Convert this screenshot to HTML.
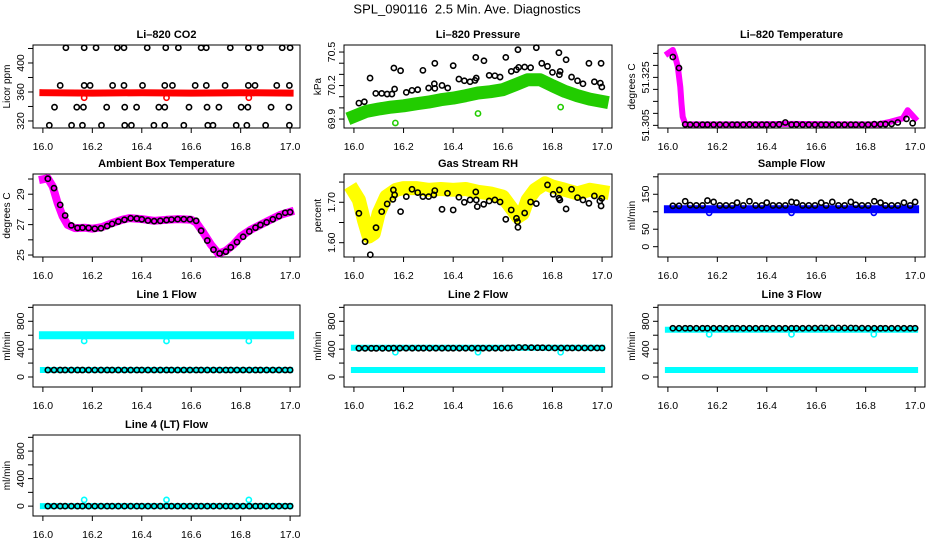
<!DOCTYPE html>
<html><head><meta charset="utf-8">
<style>
html,body{margin:0;padding:0;background:#fff;}
svg{display:block;font-family:"Liberation Sans",Arial,sans-serif;}
</style></head>
<body>
<svg id="chart" width="936" height="540" viewBox="0 0 936 540">
<text x="467" y="13.5" text-anchor="middle" font-size="13" style="white-space:pre" xml:space="preserve">SPL_090116  2.5 Min. Ave. Diagnostics</text>
</svg>
<script>
// ---------- data ----------
const xTicks = [16.0, 16.2, 16.4, 16.6, 16.8, 17.0];
const xTickLabels = ["16.0", "16.2", "16.4", "16.6", "16.8", "17.0"];
const sampleX = [16.02,16.045,16.07,16.09,16.115,16.14,16.16,16.185,16.21,16.235,16.26,16.28,16.305,16.33,16.355,16.38,16.4,16.425,16.45,16.475,16.5,16.52,16.545,16.57,16.595,16.62,16.64,16.665,16.69,16.715,16.74,16.76,16.785,16.81,16.835,16.86,16.88,16.905,16.93,16.955,16.98,17.0];
const outlierX = [16.167, 16.5, 16.833];

// CO2
const co2BandX = [16.0, 16.2, 16.4, 16.6, 16.8, 17.0];
const co2BandY = [359, 358.5, 359, 358.5, 359, 358.5];
const co2OutY = [352, 352, 352];
const co2BlackX = [16.093,16.167,16.215,16.301,16.328,16.422,16.497,16.548,16.640,16.661,16.758,16.831,16.879,16.968,17.0,
 16.070,16.167,16.191,16.282,16.328,16.403,16.493,16.524,16.616,16.661,16.737,16.831,16.858,16.946,16.997,
 16.047,16.137,16.164,16.258,16.331,16.379,16.469,16.493,16.591,16.664,16.712,16.802,16.829,16.923,16.995,
 16.026,16.116,16.160,16.237,16.331,16.358,16.449,16.493,16.570,16.667,16.688,16.782,16.825,16.901,16.997];
const co2BlackY = [421,421,421,421,421,421,421,421,421,421,421,421,421,421,421,
 369,369,369,369,369,369,369,369,369,369,369,369,369,369,369,
 339,339,339,339,339,339,339,339,339,339,339,339,339,339,339,
 314,314,314,314,314,314,314,314,314,314,314,314,314,314,314];

// Pressure
const presBandX = [16.0,16.05,16.1,16.15,16.2,16.25,16.3,16.35,16.4,16.45,16.5,16.55,16.6,16.65,16.7,16.75,16.8,16.85,16.9,16.95,17.0];
const presBandY = [69.924,69.969,69.990,70.007,70.019,70.037,70.052,70.073,70.088,70.109,70.133,70.145,70.163,70.207,70.252,70.252,70.199,70.148,70.109,70.079,70.058];
const presOutY = [69.865, 69.95, 70.007];
const presBlackX = [16.020,16.042,16.065,16.088,16.112,16.134,16.153,16.164,16.161,16.188,16.211,16.234,16.257,16.278,16.301,16.324,16.326,16.326,16.355,16.378,16.400,16.423,16.445,16.468,16.488,16.491,16.493,16.524,16.545,16.568,16.589,16.612,16.634,16.655,16.661,16.664,16.688,16.712,16.735,16.757,16.780,16.800,16.826,16.828,16.831,16.855,16.877,16.901,16.923,16.947,16.969,16.993,16.996,16.999];
const presBlackY = [70.043,70.055,70.267,70.130,70.130,70.124,70.124,70.169,70.357,70.333,70.139,70.157,70.163,70.336,70.178,70.216,70.175,70.399,70.201,70.178,70.378,70.258,70.243,70.234,70.246,70.452,70.267,70.422,70.291,70.288,70.276,70.452,70.327,70.342,70.521,70.363,70.366,70.360,70.539,70.399,70.372,70.318,70.494,70.297,70.327,70.431,70.276,70.243,70.216,70.399,70.234,70.222,70.399,70.187];

// Li-820 temperature
const tempBandX = [16.0,16.02,16.03,16.04,16.05,16.055,16.06,16.07,16.08,16.3,16.5,16.7,16.85,16.9,16.95,16.97,17.0];
const tempBandY = [51.335,51.3364,51.3335,51.3294,51.321,51.314,51.3086,51.3056,51.3054,51.3054,51.3056,51.3054,51.3054,51.3065,51.3079,51.3113,51.3079];
const tempBlackX = [16.02,16.045,16.07,16.09,16.115,16.14,16.16,16.185,16.21,16.235,16.26,16.28,16.305,16.33,16.355,16.38,16.4,16.425,16.45,16.475,16.5,16.52,16.545,16.57,16.595,16.62,16.64,16.665,16.69,16.715,16.74,16.76,16.785,16.81,16.835,16.86,16.88,16.905,16.93,16.965,16.99];
const tempBlackY = [51.3335,51.3289,51.3054,51.3053,51.3053,51.3053,51.3053,51.3053,51.3053,51.3053,51.3053,51.3053,51.3053,51.3054,51.3053,51.3053,51.3053,51.3053,51.3054,51.3062,51.3053,51.3054,51.3053,51.3053,51.3053,51.3053,51.3053,51.3053,51.3053,51.3053,51.3053,51.3053,51.3053,51.3053,51.3055,51.3055,51.3055,51.3056,51.3062,51.3077,51.3059];

// Ambient box temperature
const ambBandX = [16.0,16.02,16.04,16.06,16.08,16.1,16.13,16.17,16.2,16.24,16.28,16.32,16.35,16.4,16.45,16.5,16.55,16.6,16.62,16.65,16.68,16.71,16.74,16.77,16.8,16.84,16.88,16.92,16.96,17.0];
const ambBandY = [29.98,30.05,29.5,28.41,27.54,26.99,26.77,26.80,26.73,26.84,27.10,27.32,27.43,27.36,27.25,27.32,27.36,27.32,27.14,26.44,25.68,25.09,25.28,25.68,26.22,26.66,26.99,27.32,27.64,27.84];
const ambBlackY = [30.02,29.40,28.30,27.60,26.95,26.78,26.80,26.78,26.73,26.76,26.90,27.05,27.20,27.32,27.42,27.40,27.35,27.27,27.23,27.25,27.30,27.33,27.36,27.36,27.35,27.25,26.60,25.95,25.35,25.10,25.22,25.50,25.85,26.20,26.55,26.80,26.98,27.15,27.35,27.55,27.78,27.82];

// Gas stream RH
const rhBandX = [16.0,16.02,16.04,16.06,16.08,16.1,16.13,16.17,16.2,16.25,16.3,16.35,16.4,16.45,16.5,16.55,16.6,16.63,16.66,16.68,16.7,16.73,16.77,16.8,16.85,16.9,16.95,17.0];
const rhBandY = [1.726,1.706,1.656,1.615,1.623,1.673,1.714,1.731,1.735,1.735,1.731,1.733,1.731,1.733,1.726,1.722,1.714,1.689,1.664,1.672,1.706,1.731,1.747,1.739,1.731,1.722,1.731,1.726];
const rhBlackX = [16.020,16.045,16.066,16.089,16.112,16.134,16.157,16.159,16.164,16.188,16.211,16.234,16.257,16.278,16.301,16.322,16.326,16.355,16.377,16.400,16.423,16.445,16.468,16.491,16.493,16.497,16.523,16.545,16.568,16.589,16.612,16.634,16.655,16.659,16.661,16.688,16.712,16.735,16.780,16.803,16.826,16.828,16.830,16.855,16.877,16.901,16.923,16.947,16.969,16.991,16.996,16.999];
const rhBlackY = [1.6727,1.6025,1.5702,1.6372,1.6769,1.6959,1.7074,1.7306,1.7182,1.6769,1.7140,1.7322,1.7240,1.7140,1.7140,1.7182,1.7289,1.6826,1.7223,1.6810,1.7124,1.7000,1.7058,1.7256,1.7058,1.6893,1.6950,1.7033,1.7058,1.7008,1.6579,1.6810,1.6603,1.6521,1.6380,1.6735,1.7008,1.6967,1.7430,1.7198,1.7099,1.7306,1.7058,1.6835,1.7322,1.7116,1.7058,1.6975,1.7157,1.7033,1.6909,1.7099];

// Sample flow
const sfBandX = [16.0, 17.0];
const sfBandY = [107, 107];
const sfOutY = [97, 97, 97];
const sfBlackY = [117,117,130,119,118,118,132,128,118,118,118,126,118,130,118,118,126,118,118,118,128,126,118,118,118,126,118,128,118,118,128,120,118,118,130,126,118,118,118,126,118,128];

// Line flows
const flowBandX = [16.0, 17.0];
const l1HighY = [600, 600];
const l1LowY = [100, 100];
const l1OutY = [517, 517, 517];
const l1BlackY = [100,100,100,100,100,100,100,100,100,100,100,100,100,100,100,100,100,100,100,100,100,100,100,100,100,100,100,100,100,100,100,100,100,100,100,100,100,100,100,100,100,100];
const l2HighY = [420, 420];
const l2LowY = [100, 100];
const l2OutY = [355, 355, 355];
const l2BlackY = [412,412,412,412,412,412,414,414,414,414,414,414,414,414,414,414,414,414,414,414,414,414,414,414,414,416,418,424,424,422,420,420,418,416,416,416,416,416,416,416,416,416];
const l3HighY = [680, 680];
const l3LowY = [100, 100];
const l3OutY = [613, 613, 613];
const l3BlackY = [700,700,700,700,700,700,700,700,700,700,700,700,700,700,700,700,700,700,700,700,700,700,700,702,702,704,704,704,704,704,704,702,702,700,700,700,700,700,700,700,700,700];
const l4BandY = [0, 0];
const l4OutY = [91, 91, 91];
const l4BlackY = [0,0,0,0,0,0,0,0,0,0,0,0,0,0,0,0,0,0,0,0,0,0,0,0,0,0,0,0,0,0,0,0,0,0,0,0,0,0,0,0,0,0];

// ---------- layout ----------
const NS = "http://www.w3.org/2000/svg";
const svg = document.getElementById("chart");
const cols = [[33,300],[344,612],[658,925]];
const rows = [[45,128],[174,257],[305,387],[435,516]];
const xMin = 15.96, xMax = 17.04;

function mk(tag, attrs, parent) {
  const e = document.createElementNS(NS, tag);
  for (const k in attrs) e.setAttribute(k, attrs[k]);
  (parent || svg).appendChild(e);
  return e;
}

const flowTicks = [0,200,400,600,800,1000];
const flowLabels = ["0","","400","","800",""];
const panels = [
  {name:"li820-co2", title:"Li\u2013820 CO2", ylab:"Licor ppm", c:0, r:0, ylim:[310.3,424.8], ticks:[320,340,360,380,400,420], labels:["320","","360","","400",""]},
  {name:"li820-pressure", title:"Li\u2013820 Pressure", ylab:"kPa", c:1, r:0, ylim:[69.82,70.563], ticks:[69.9,70.0,70.1,70.2,70.3,70.4,70.5], labels:["69.9","","","70.2","","","70.5"]},
  {name:"li820-temperature", title:"Li\u2013820 Temperature", ylab:"degrees C", c:2, r:0, ylim:[51.3039,51.3385], ticks:[51.305,51.31,51.315,51.32,51.325,51.33,51.335], labels:["51.305","","","","51.325","",""]},
  {name:"ambient-box-temperature", title:"Ambient Box Temperature", ylab:"degrees C", c:0, r:1, ylim:[24.87,30.33], ticks:[25,26,27,28,29,30], labels:["25","","27","","29",""]},
  {name:"gas-stream-rh", title:"Gas Stream RH", ylab:"percent", c:1, r:1, ylim:[1.5646,1.770], ticks:[1.60,1.65,1.70,1.75], labels:["1.60","","1.70",""]},
  {name:"sample-flow", title:"Sample Flow", ylab:"ml/min", c:2, r:1, ylim:[-29.5,208], ticks:[0,50,100,150,200], labels:["0","50","","150",""]},
  {name:"line1-flow", title:"Line 1 Flow", ylab:"ml/min", c:0, r:2, ylim:[-143.6,1034], ticks:flowTicks, labels:flowLabels},
  {name:"line2-flow", title:"Line 2 Flow", ylab:"ml/min", c:1, r:2, ylim:[-143.6,1034], ticks:flowTicks, labels:flowLabels},
  {name:"line3-flow", title:"Line 3 Flow", ylab:"ml/min", c:2, r:2, ylim:[-143.6,1034], ticks:flowTicks, labels:flowLabels},
  {name:"line4-lt-flow", title:"Line 4 (LT) Flow", ylab:"ml/min", c:0, r:3, ylim:[-143.6,1034], ticks:flowTicks, labels:flowLabels}
];

function setup(p) {
  const [L,R] = cols[p.c], [T,B] = rows[p.r];
  p.sx = v => L + (v - xMin) / (xMax - xMin) * (R - L);
  p.sy = v => B - (v - p.ylim[0]) / (p.ylim[1] - p.ylim[0]) * (B - T);
  const g = mk("g", {});
  
  
  p.g = g;
  const t = mk("text", {x:(L+R)/2, y:T-7, "text-anchor":"middle", "font-size":"11", "font-weight":"bold"}, g);
  t.textContent = p.title;
  
  
  const yl = mk("text", {transform:`translate(${L-23},${(T+B)/2}) rotate(-90)`, "text-anchor":"middle", "font-size":"10"}, g);
  yl.textContent = p.ylab;
  
  
  const xa = mk("g", {}, g);
  
  
  mk("line", {x1:p.sx(xTicks[0]), x2:p.sx(xTicks[xTicks.length-1]), y1:B, y2:B, stroke:"#000"}, xa);
  xTicks.forEach((v,i) => {
    const x = p.sx(v);
    mk("line", {x1:x, x2:x, y1:B, y2:B+5, stroke:"#000"}, xa);
    const tl = mk("text", {x:x, y:B+22, "text-anchor":"middle", "font-size":"10.5"}, xa);
    tl.textContent = xTickLabels[i];
    
    
  });
  const ya = mk("g", {}, g);
  
  
  mk("line", {x1:L, x2:L, y1:p.sy(p.ticks[0]), y2:p.sy(p.ticks[p.ticks.length-1]), stroke:"#000"}, ya);
  p.ticks.forEach((v,i) => {
    const y = p.sy(v);
    mk("line", {x1:L-5, x2:L, y1:y, y2:y, stroke:"#000"}, ya);
    if (p.labels[i]) {
      const tl = mk("text", {transform:`translate(${L-9},${y}) rotate(-90)`, "text-anchor":"middle", "font-size":"10.5"}, ya);
      tl.textContent = p.labels[i];
      
      
    }
  });
  const box = mk("rect", {x:L, y:T, width:R-L, height:B-T, fill:"none", stroke:"#000"}, g);
  
  
  return p;
}

function band(p, xs, ys, color, w, name) {
  const d = xs.map((x,i) => (i ? "L" : "M") + p.sx(x).toFixed(1) + "," + p.sy(ys[i]).toFixed(1)).join(" ");
  const e = mk("path", {d:d, fill:"none", stroke:color, "stroke-width":w, "stroke-linejoin":"round", "stroke-linecap":"square"}, p.g);
  
  
}
function pts(p, xs, ys, color, name) {
  const g = mk("g", {}, p.g);
  
  
  xs.forEach((x,i) => {
    const c = mk("circle", {cx:p.sx(x), cy:p.sy(ys[i]), r:2.6, fill:"none", stroke:color, "stroke-width":1.6}, g);
    
    
  });
}

const P = panels.map(setup);
const CY = "#00ffff";
// CO2
band(P[0], co2BandX, co2BandY, "#ff0000", 7, "co2-dense-series");
pts(P[0], outlierX, co2OutY, "#ff0000", "co2-outliers");
pts(P[0], co2BlackX, co2BlackY, "#000", "co2-average-points");
// Pressure
band(P[1], presBandX, presBandY, "#22cc00", 13, "pressure-dense-series");
pts(P[1], outlierX, presOutY, "#22cc00", "pressure-outliers");
pts(P[1], presBlackX, presBlackY, "#000", "pressure-average-points");
// Li-820 temp
band(P[2], tempBandX, tempBandY, "#ff00ff", 6, "temperature-dense-series");
pts(P[2], tempBlackX, tempBlackY, "#000", "temperature-average-points");
// Ambient
band(P[3], ambBandX, ambBandY, "#ff00ff", 8, "ambient-dense-series");
pts(P[3], sampleX, ambBlackY, "#000", "ambient-average-points");
// RH
band(P[4], rhBandX, rhBandY, "#ffff00", 14, "rh-dense-series");
pts(P[4], rhBlackX, rhBlackY, "#000", "rh-average-points");
// Sample flow
band(P[5], sfBandX, sfBandY, "#0000ff", 8, "sample-flow-dense-series");
pts(P[5], outlierX, sfOutY, "#0000ff", "sample-flow-outliers");
pts(P[5], sampleX, sfBlackY, "#000", "sample-flow-average-points");
// Line 1
band(P[6], flowBandX, l1HighY, CY, 8, "line1-high-series");
band(P[6], flowBandX, l1LowY, CY, 6, "line1-low-series");
pts(P[6], outlierX, l1OutY, CY, "line1-outliers");
pts(P[6], sampleX, l1BlackY, "#000", "line1-average-points");
// Line 2
band(P[7], flowBandX, l2HighY, CY, 6, "line2-high-series");
band(P[7], flowBandX, l2LowY, CY, 6, "line2-low-series");
pts(P[7], outlierX, l2OutY, CY, "line2-outliers");
pts(P[7], sampleX, l2BlackY, "#000", "line2-average-points");
// Line 3
band(P[8], flowBandX, l3HighY, CY, 6, "line3-high-series");
band(P[8], flowBandX, l3LowY, CY, 6, "line3-low-series");
pts(P[8], outlierX, l3OutY, CY, "line3-outliers");
pts(P[8], sampleX, l3BlackY, "#000", "line3-average-points");
// Line 4
band(P[9], flowBandX, l4BandY, CY, 6, "line4-series");
pts(P[9], outlierX, l4OutY, CY, "line4-outliers");
pts(P[9], sampleX, l4BlackY, "#000", "line4-average-points");
</script>
</body></html>
